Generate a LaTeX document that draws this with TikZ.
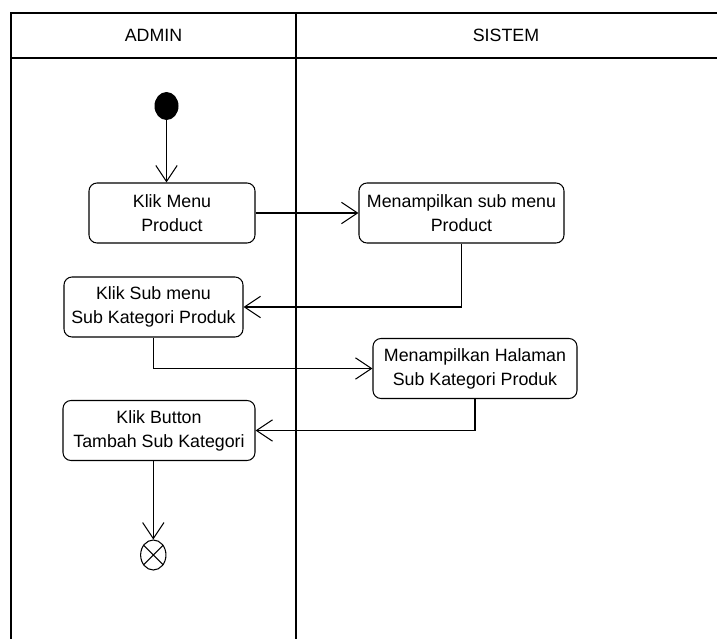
\documentclass[tikz,border=0pt]{standalone}
\usepackage{fontspec}
\setmainfont{Liberation Sans}
\usepackage{tikz}
\usetikzlibrary{positioning,arrows.meta,shapes.geometric,calc}
\tikzset{
  act/.style={rectangle,rounded corners=0.24cm,draw=black,line width=0.9pt,align=center,minimum height=1.8cm,inner sep=2pt,font=\fontsize{15.2}{20.5}\selectfont},
  lanehead/.style={font=\fontsize{15.2}{20.5}\selectfont},
  startnode/.style={ellipse,fill=black,minimum width=0.72cm,minimum height=0.84cm,inner sep=0pt},
  endnode/.style={ellipse,draw=black,line width=0.9pt,minimum width=0.76cm,minimum height=0.9cm,inner sep=0pt},
  edge/.style={-{Straight Barb[length=0.48cm,width=0.64cm,line width=0.9pt]},line width=0.9pt},
  lane/.style={line width=1.6pt}
}
\begin{document}
\begin{tikzpicture}[x=0.03cm,y=-0.03cm]
  \useasboundingbox (0,0) rectangle (717,639);
  \draw[line width=0.9pt] (11,639) -- (11,13) -- (717,13);
  \draw[lane] (11,58) -- (717,58);
  \draw[lane] (296,13) -- (296,639);
  \node[lanehead] (admin) at (153.5,35.5) {ADMIN};
  \node[lanehead] (sistem) at (506,35.5) {SISTEM};

  \node[startnode] (start) at (166.5,106) {};
  \node[act,minimum width=4.98cm] (klikmenu) at (172,213) {Klik Menu\\Product};
  \node[act,minimum width=6.15cm] (tampilsub) at (461.5,213) {Menampilkan sub menu\\Product};
  \node[act,minimum width=5.37cm] (kliksub) at (153.5,307) {Klik Sub menu\\Sub Kategori Produk};
  \node[act,minimum width=6.12cm] (tampilhal) at (475,368.5) {Menampilkan Halaman\\Sub Kategori Produk};
  \node[act,minimum width=5.76cm] (klikbtn) at (159,430.5) {Klik Button\\Tambah Sub Kategori};
  \node[endnode] (fin) at (153.3,555) {};
  \draw[line width=0.9pt] (fin.45) -- (fin.225) (fin.135) -- (fin.315);

  \draw[edge] (start) -- (start |- klikmenu.north);
  \draw[edge] (klikmenu) -- (tampilsub);
  \draw[edge] (tampilsub.south) |- (kliksub.east);
  \draw[edge] (kliksub.south) |- (tampilhal.west);
  \draw[edge] (tampilhal.south) |- (klikbtn.east);
  \draw[edge] (fin.north |- klikbtn.south) -- (fin);
\end{tikzpicture}
\end{document}
